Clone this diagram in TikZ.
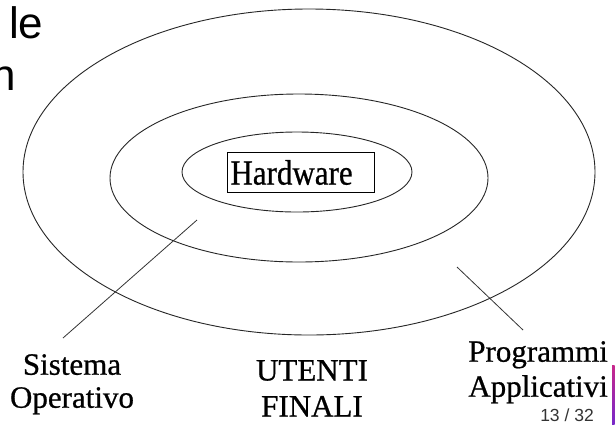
\documentclass[tikz,border=0pt]{standalone}
\usepackage{fontspec}
\usepackage{graphicx}
\setmainfont{Liberation Serif}
\newfontface\labelface{Liberation Serif}[FakeBold=0.7]
\newfontfamily\slidesans{Liberation Sans}
% slightly tall serif lettering for the core box
\newcommand\tallglyphs[1]{\scalebox{1}[1.14]{#1}}

\begin{document}
\begin{tikzpicture}[x=1pt,y=-1pt,
  ring/.style={draw=black!85, line width=0.9pt},
  leader/.style={draw=black!80, line width=0.8pt},
  serif31/.style={font=\labelface\fontsize{31}{#1}\selectfont},
  serif31/.default=33,
  lbl/.style={serif31=#1, inner sep=0pt},
  slidetext/.style={font=\slidesans\fontsize{44}{52}\selectfont, inner sep=0pt},
  ]
\clip (0,0) rectangle (615,424);
\fill[white] (0,0) rectangle (615,424);

% leftover slide title fragments
\node[slidetext, anchor=base east] (t1) at (43.5,38) {le};
\node[slidetext, anchor=base east] (t2) at (16,90) {n};

% concentric layers
\draw[ring] (309,172) ellipse [x radius=286, y radius=163];
\draw[ring] (299,178) ellipse [x radius=189, y radius=84];
\draw[ring] (297,172) ellipse [x radius=115, y radius=40];

% core
\node[serif31, draw, line width=1pt, anchor=north west, minimum width=147pt,
      minimum height=40pt, text width=141pt, inner xsep=3pt, inner ysep=0pt,
      align=left] (hw) at (227,152) {\tallglyphs{Hardware}};

% labels
\node[lbl=33, align=center, anchor=north] (so) at (72,354)
  {Sistema\\Operativo};
\node[lbl=36, align=center, anchor=north] (uf) at (312,360)
  {UTENTI\\FINALI};
\node[lbl=35, align=right, anchor=north east] (pa) at (608,341)
  {Programmi\\Applicativi};

% leader lines
\coordinate (soA) at (197,220);
\coordinate (soB) at (63,338);
\coordinate (paA) at (457,267);
\coordinate (paB) at (523,330);
\draw[leader] (soA) -- (soB);
\draw[leader] (paA) -- (paB);

% page number and side bar
\node[font=\slidesans\fontsize{17.5}{20}\selectfont, text=black!80, inner sep=0pt,
      anchor=base] (pg) at (567,421) {13 / 32};
\shade[top color={rgb,255:red,200;green,40;blue,140}, bottom color={rgb,255:red,120;green,40;blue,200}]
  (612,365) rectangle (614.5,424);
\end{tikzpicture}
\end{document}
